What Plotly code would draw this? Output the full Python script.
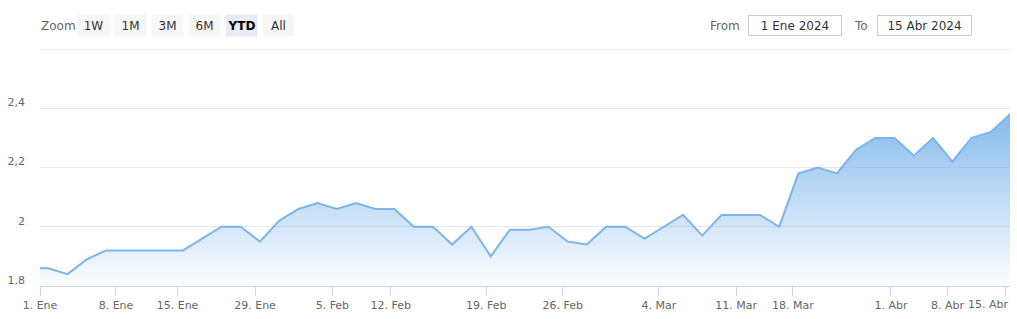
import plotly.graph_objects as go

# ---- data (ordinal index: one step per data point; index -1 is the last value before the window) ----
point_index = list(range(-1, 51))
values = [1.86,
          1.86, 1.84, 1.89, 1.92, 1.92, 1.92, 1.92, 1.92, 1.96, 2.00,
          2.00, 1.95, 2.02, 2.06, 2.08, 2.06, 2.08, 2.06, 2.06, 2.00,
          2.00, 1.94, 2.00, 1.90, 1.99, 1.99, 2.00, 1.95, 1.94, 2.00,
          2.00, 1.96, 2.00, 2.04, 1.97, 2.04, 2.04, 2.04, 2.00, 2.18,
          2.20, 2.18, 2.26, 2.30, 2.30, 2.24, 2.30, 2.22, 2.30, 2.32,
          2.38]

x_tick_labels = ["1. Ene", "8. Ene", "15. Ene", "29. Ene", "5. Feb", "12. Feb",
                 "19. Feb", "26. Feb", "4. Mar", "11. Mar", "18. Mar", "1. Abr",
                 "8. Abr", "15. Abr"]
x_tick_index = [-0.43, 3.52, 6.72, 10.75, 14.77, 17.80, 22.77, 26.75, 31.74,
                35.76, 38.71, 43.81, 46.75, 49.75]

y_tick_vals = [1.8, 2.0, 2.2, 2.4, 2.6]
y_tick_text = ["1,8", "2", "2,2", "2,4", ""]

range_buttons = ["1W", "1M", "3M", "6M", "YTD", "All"]
selected_button = "YTD"
date_from = "1 Ene 2024"
date_to = "15 Abr 2024"

# ---- layout geometry ----
W, H = 1017, 319
L, R, T, B = 39, 7, 49, 30
PW, PH = W - L - R, H - T - B
FONT = "DejaVu Sans"
X_RANGE = [-0.43, 50]
Y_RANGE = [1.8, 2.6]


def px(xpix):
    return (xpix - L) / PW


def py(ypix):
    return (H - B - ypix) / PH


fig = go.Figure()
fig.add_trace(go.Scatter(
    x=point_index, y=values, mode="lines",
    line=dict(color="#7cb5ec", width=2),
    fill="tozeroy",
    fillgradient=dict(type="vertical", start=Y_RANGE[0], stop=max(values),
                      colorscale=[[0, "rgba(124,181,236,0.0)"],
                                  [1, "rgba(124,181,236,0.92)"]]),
    hoverinfo="skip", showlegend=False,
))

annotations = []
# range selector
annotations.append(dict(text="Zoom", x=px(38), y=py(25.5), xref="paper", yref="paper",
                        xanchor="left", yanchor="middle", showarrow=False,
                        font=dict(family=FONT, size=12, color="#666666")))
cx = 92.5
for b in range_buttons:
    sel = b == selected_button
    annotations.append(dict(
        text=("<b>%s</b>" % b) if sel else b, x=px(cx), y=py(25.5),
        xref="paper", yref="paper", xanchor="center", yanchor="middle",
        showarrow=False, width=31, height=21, borderpad=0,
        bgcolor="#e6ebf5" if sel else "#f7f7f7",
        font=dict(family=FONT, size=12, color="#000000" if sel else "#333333")))
    cx += 37
# date inputs
annotations.append(dict(text="From", x=px(724.5), y=py(25.5), xref="paper", yref="paper",
                        xanchor="center", yanchor="middle", showarrow=False,
                        font=dict(family=FONT, size=12, color="#666666")))
annotations.append(dict(text=date_from, x=px(795), y=py(25.5), xref="paper", yref="paper",
                        xanchor="center", yanchor="middle", showarrow=False,
                        width=92, height=19, borderpad=0, bordercolor="#cccccc", borderwidth=1,
                        bgcolor="#ffffff",
                        font=dict(family=FONT, size=12, color="#333333")))
annotations.append(dict(text="To", x=px(860.5), y=py(25.5), xref="paper", yref="paper",
                        xanchor="center", yanchor="middle", showarrow=False,
                        font=dict(family=FONT, size=12, color="#666666")))
annotations.append(dict(text=date_to, x=px(924.5), y=py(25.5), xref="paper", yref="paper",
                        xanchor="center", yanchor="middle", showarrow=False,
                        width=93, height=19, borderpad=0, bordercolor="#cccccc", borderwidth=1,
                        bgcolor="#ffffff",
                        font=dict(family=FONT, size=12, color="#333333")))

# last x label is pushed inside the chart edge (as the reference does): draw it as an annotation
shown_text = list(x_tick_labels)
last_label = shown_text[-1]
shown_text[-1] = ""
annotations.append(dict(text=last_label, x=1.0, xref="paper", y=0, yref="paper",
                        xanchor="right", yanchor="top", yshift=-10, showarrow=False,
                        font=dict(family=FONT, size=11, color="#666666")))

# top grid line (at the top edge of the plot area)
shapes = [dict(type="line", xref="paper", yref="y", x0=0, x1=px(1012),
               y0=y_tick_vals[-1], y1=y_tick_vals[-1],
               line=dict(color="#e6e6e6", width=1), layer="below")]

fig.update_layout(
    width=W, height=H,
    margin=dict(l=L, r=R, t=T, b=B, pad=0),
    paper_bgcolor="#ffffff", plot_bgcolor="#ffffff",
    annotations=annotations, shapes=shapes,
    xaxis=dict(range=X_RANGE, tickmode="array", tickvals=x_tick_index,
               ticktext=shown_text, showgrid=False, zeroline=False,
               showline=True, linecolor="#ccd6eb", linewidth=1,
               ticks="outside", ticklen=9, tickcolor="#ccd6eb", tickwidth=1,
               tickfont=dict(family=FONT, size=11, color="#666666"),
               fixedrange=True),
    yaxis=dict(range=Y_RANGE, tickmode="array", tickvals=y_tick_vals,
               ticktext=y_tick_text, showgrid=True, gridcolor="#e6e6e6",
               gridwidth=1, zeroline=False, showline=False, ticks="",
               ticklabelstandoff=14, ticklabelshift=-6,
               tickfont=dict(family=FONT, size=11, color="#666666"),
               fixedrange=True),
)

fig.write_html("out.html")
